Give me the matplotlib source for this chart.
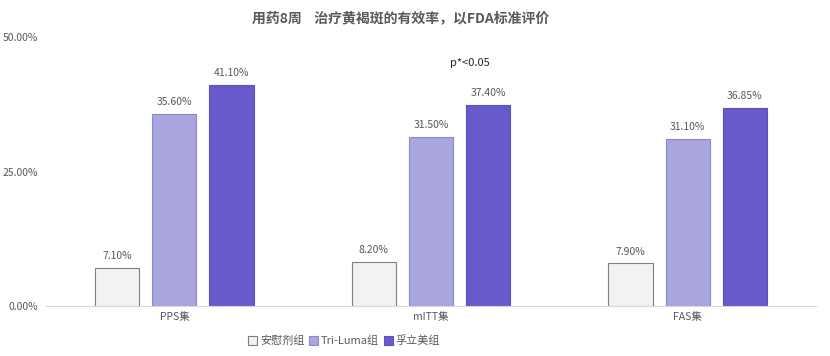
import matplotlib
matplotlib.use("Agg")
import matplotlib.pyplot as plt
import numpy as np
from matplotlib.ticker import FuncFormatter

plt.rcParams['font.family'] = ['Noto Sans CJK SC', 'DejaVu Sans']

categories = ['PPS集', 'mITT集', 'FAS集']
series_names = ['安慰剂组', 'Tri-Luma组', '孚立美组']
placebo = [7.10, 8.20, 7.90]
triluma = [35.60, 31.50, 31.10]
fuliimei = [41.10, 37.40, 36.85]
yticks = [0, 25, 50]
title = '用药8周    治疗黄褐斑的有效率，以FDA标准评价'
note = 'p*<0.05'

fig = plt.figure(figsize=(8.3, 3.56), dpi=100)
ax = fig.add_axes([46/830, 1-306/356, (816-46)/830, 269/356])

x = np.arange(len(categories))
w = 0.172
off = 0.223
colors = ['#F2F2F2', '#A9A5DE', '#675BCB']
edges = ['#7F7F7F', '#8C88C8', '#5a4ec0']
data = [placebo, triluma, fuliimei]
for i, (vals, c, e, name) in enumerate(zip(data, colors, edges, series_names)):
    bars = ax.bar(x + (i-1)*off, vals, w, color=c, edgecolor=e, linewidth=0.8, label=name)
    for b, v in zip(bars, vals):
        ax.text(b.get_x()+b.get_width()/2, v + 1.3, f'{v:.2f}%', ha='center', va='bottom',
                fontsize=7.5, color='#595959')

ax.set_xlim(-0.5, 2.5)
ax.set_ylim(0, 50)
ax.set_yticks(yticks)
ax.yaxis.set_major_formatter(FuncFormatter(lambda v, p: f'{v:.2f}%'))
ax.tick_params(axis='y', length=0, labelsize=7.5, labelcolor='#595959', pad=6)
ax.set_xticks(x)
ax.set_xticklabels(categories)
ax.tick_params(axis='x', length=0, labelsize=7.5, labelcolor='#595959', pad=4)
for s in ['top', 'right', 'left']:
    ax.spines[s].set_visible(False)
ax.spines['bottom'].set_color('#D9D9D9')

ax.text(1.15, 45.2, note, ha='center', va='center', fontsize=8, color='#262626')

fig.text(401/830, 1-18/356, title, ha='center', va='center', fontsize=10, fontweight='bold', color='#595959')

leg = fig.legend(loc='center', bbox_to_anchor=(344/830, 1-341/356), ncol=3, frameon=False,
                 fontsize=8, handlelength=0.8, handleheight=0.8, handletextpad=0.3,
                 columnspacing=0.4, labelcolor='#595959')

fig.savefig('out.png', dpi=100)
